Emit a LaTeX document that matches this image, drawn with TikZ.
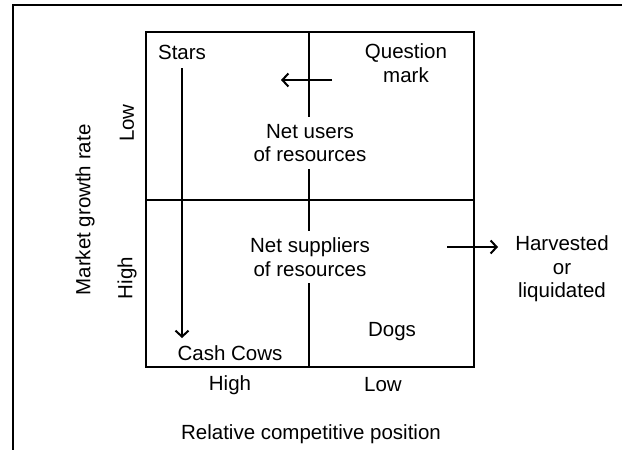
\documentclass[tikz,border=0pt]{standalone}
\usepackage{fontspec}
\setmainfont{Liberation Sans}
\usetikzlibrary{positioning,arrows.meta,calc}
\tikzset{
  grid/.style={line width=2pt, draw=black},
  move/.style={line width=2pt, draw=black,
    -{Straight Barb[length=6pt,width=13pt,line width=2pt]}},
  cell/.style={font=\fontsize{20.5}{23.5}\selectfont, align=center, inner sep=1pt},
  gap/.style={cell, inner ysep=7pt}
}

\begin{document}
\begin{tikzpicture}[x=1pt,y=-1pt]
    \useasboundingbox (0,0) rectangle (622,450);
    % frame
    \draw[line width=1.8pt] (622,5) -- (13,5) -- (13,450);

    \coordinate (tl) at (146,32);
    \coordinate (br) at (474,367);
    \coordinate (ml) at (146,200);
    \coordinate (mr) at (474,200);
    \coordinate (mt) at (309,32);
    \coordinate (mb) at (309,367);

    \draw[grid] (tl) rectangle (br);
    \draw[grid] (ml) -- (mr);

    \node[gap] (users) at (310,143) {Net users\\of resources};
    \node[gap] (suppl) at (310,257) {Net suppliers\\of resources};

    \draw[grid] (mt) -- (mt |- users.north);
    \draw[grid] (mt |- users.south) -- (mt |- suppl.north);
    \draw[grid] (mt |- suppl.south) -- (mb);

    % quadrants
    \node[cell] (stars) at (182,52) {Stars};
    \node[cell] (quest) at (406,63) {Question\\mark};
    \node[cell] (cows)  at (230,353) {Cash Cows};
    \node[cell] (dogs)  at (392,332) {Dogs};
    \node[cell] (harv)  at (562,269) {Harvested\\or\\liquidated};

    \coordinate (q0) at (332,80);
    \coordinate (q1) at (281,80);
    \coordinate (h0) at (447,247);
    \coordinate (h1) at (498,247);
    \coordinate (s0) at (182,68);
    \coordinate (s1) at (182,338);

    \draw[move] (s0) -- (s1);
    \draw[move] (q0) -- (q1);
    \draw[move] (h0) -- (h1);

    % axes
    \node[cell] (xhigh) at (230,385) {High};
    \node[cell] (xlow)  at (383,385) {Low};
    \node[cell] (xname) at (311,434) {Relative competitive position};
    \node[cell, rotate=90] (ylow)  at (127,123) {Low};
    \node[cell, rotate=90] (yhigh) at (127,278) {High};
    \node[cell, rotate=90] (yname) at (85,210) {Market growth rate};
\end{tikzpicture}
\end{document}
